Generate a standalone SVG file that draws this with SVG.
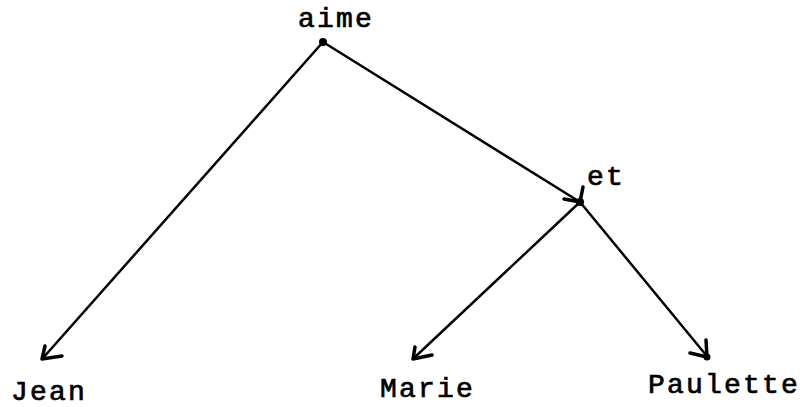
<svg xmlns="http://www.w3.org/2000/svg" width="805" height="407" viewBox="0 0 805 407">
<style>
.lbl{font-family:"Liberation Mono","Courier New",monospace;font-size:28px;fill:#000;stroke:#000;stroke-width:0.7px;letter-spacing:2.2px}
.e{stroke:#000;stroke-width:2.5;fill:none;stroke-linecap:round;stroke-linejoin:round}
.h{stroke:#000;stroke-width:3.5;fill:none;stroke-linecap:round;stroke-linejoin:round}
</style>
<rect width="805" height="407" fill="#fff"/>
<g id="connectors">
<path class="e" d="M323 42 L43 358"/>
<path class="h" d="M45 346 L42 359 L62 356"/>
<path class="e" d="M323 42 L580 202"/>
<path class="h" d="M564 199 L580 202 L583 187"/>
<path class="e" d="M580 202 L415 357"/>
<path class="h" d="M415 347 L413 359 L432 355"/>
<path class="e" d="M580 202 L706 355"/>
<path class="h" d="M706 340 L707 357 L690 353"/>
</g>
<g id="aime"><circle cx="323" cy="42" r="4"/><text class="lbl" x="298" y="27">aime</text></g>
<g id="et"><circle cx="580" cy="202" r="4"/><text class="lbl" x="587" y="185">et</text></g>
<g id="Jean"><text class="lbl" x="11" y="400">Jean</text></g>
<g id="Marie"><text class="lbl" x="380" y="397">Marie</text></g>
<g id="Paulette"><circle cx="707" cy="357" r="3.5"/><text class="lbl" x="648" y="393">Paulette</text></g>
</svg>
